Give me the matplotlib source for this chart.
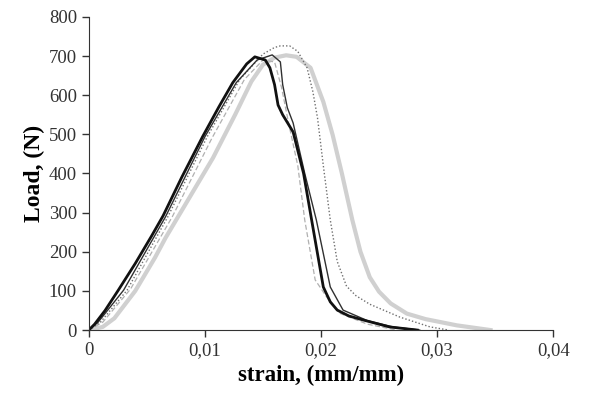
import matplotlib.pyplot as plt

plt.rcParams['font.family'] = ['Liberation Serif', 'DejaVu Serif']

# specimen curves (strain in mm/mm, load in N)
strain_a = [0, 0.0005, 0.0014, 0.0025, 0.0040, 0.0054, 0.0064, 0.0080, 0.0098, 0.0112, 0.0124,
            0.0136, 0.0143, 0.0152, 0.0156, 0.0160, 0.0163, 0.0167, 0.0176, 0.0185, 0.0193,
            0.0202, 0.0208, 0.0214, 0.0224, 0.0236, 0.0259, 0.0283]
load_a = [0, 15, 50, 100, 170, 240, 292, 390, 494, 570, 632,
          680, 698, 690, 670, 627, 575, 550, 506, 400, 263,
          110, 72, 51, 36, 26, 8, 0]

strain_b = [0, 0.0008, 0.0030, 0.0066, 0.0100, 0.0127, 0.0145, 0.0158, 0.0165, 0.0167, 0.0171,
            0.0176, 0.0186, 0.0196, 0.0208, 0.0219, 0.0240, 0.0262, 0.0285]
load_b = [0, 20, 102, 289, 494, 632, 690, 703, 685, 627, 568,
          529, 400, 281, 110, 51, 24, 8, 0]

strain_c = [0, 0.0010, 0.0033, 0.0068, 0.0102, 0.0130, 0.0150, 0.0160, 0.0165, 0.0173, 0.0180,
            0.0188, 0.0193, 0.0197, 0.0202, 0.0208, 0.0214, 0.0222, 0.0230, 0.0242, 0.0268,
            0.0294, 0.0310]
load_c = [0, 20, 102, 289, 494, 640, 705, 722, 726, 726, 712,
          670, 609, 542, 420, 281, 175, 112, 88, 66, 33,
          8, 0]

strain_d = [0, 0.0012, 0.0036, 0.0072, 0.0106, 0.0134, 0.0150, 0.0160, 0.0166, 0.0172, 0.0180,
            0.0186, 0.0195, 0.0205, 0.0216, 0.0240, 0.0265]
load_d = [0, 20, 105, 290, 490, 640, 690, 685, 620, 530, 420,
          281, 128, 84, 43, 15, 0]

strain_e = [0, 0.0012, 0.0022, 0.0040, 0.0057, 0.0066, 0.0085, 0.0107, 0.0126, 0.0140, 0.0150,
            0.0160, 0.0170, 0.0179, 0.0191, 0.0202, 0.0210, 0.0218, 0.0227, 0.0234, 0.0242,
            0.0250, 0.0260, 0.0274, 0.0290, 0.0317, 0.0346]
load_e = [0, 8, 30, 100, 185, 235, 330, 440, 550, 635, 678,
          696, 702, 698, 670, 583, 499, 400, 281, 200, 135,
          98, 68, 42, 28, 12, 0]

fig, ax = plt.subplots(figsize=(6, 4.03), dpi=100)
fig.subplots_adjust(left=0.148, right=0.922, bottom=0.181, top=0.958)

ax.plot(strain_e, load_e, color='#d0d0d0', lw=3.0)
ax.plot(strain_d, load_d, color='#b0b0b0', lw=0.9, ls=(0, (4, 2)))
ax.plot(strain_c, load_c, color='#707070', lw=1.0, ls=(0, (1, 1.5)))
ax.plot(strain_b, load_b, color='#303030', lw=1.0)
ax.plot(strain_a, load_a, color='#111111', lw=2.0)

ax.set_xlim(0, 0.04)
ax.set_ylim(0, 800)
ax.set_xticks([0, 0.01, 0.02, 0.03, 0.04])
ax.set_xticklabels(['0', '0,01', '0,02', '0,03', '0,04'])
ax.set_yticks(range(0, 801, 100))
ax.tick_params(direction='out', length=5, width=1, labelsize=13.5, colors='#333333')
for side in ['top', 'right']:
    ax.spines[side].set_visible(False)
for side in ['left', 'bottom']:
    ax.spines[side].set_color('#333333')

ax.set_xlabel('strain, (mm/mm)', fontsize=16.5, fontweight='bold', labelpad=4)
ax.set_ylabel('Load, (N)', fontsize=17, fontweight='bold', labelpad=3)

fig.savefig('out.png', dpi=100)
